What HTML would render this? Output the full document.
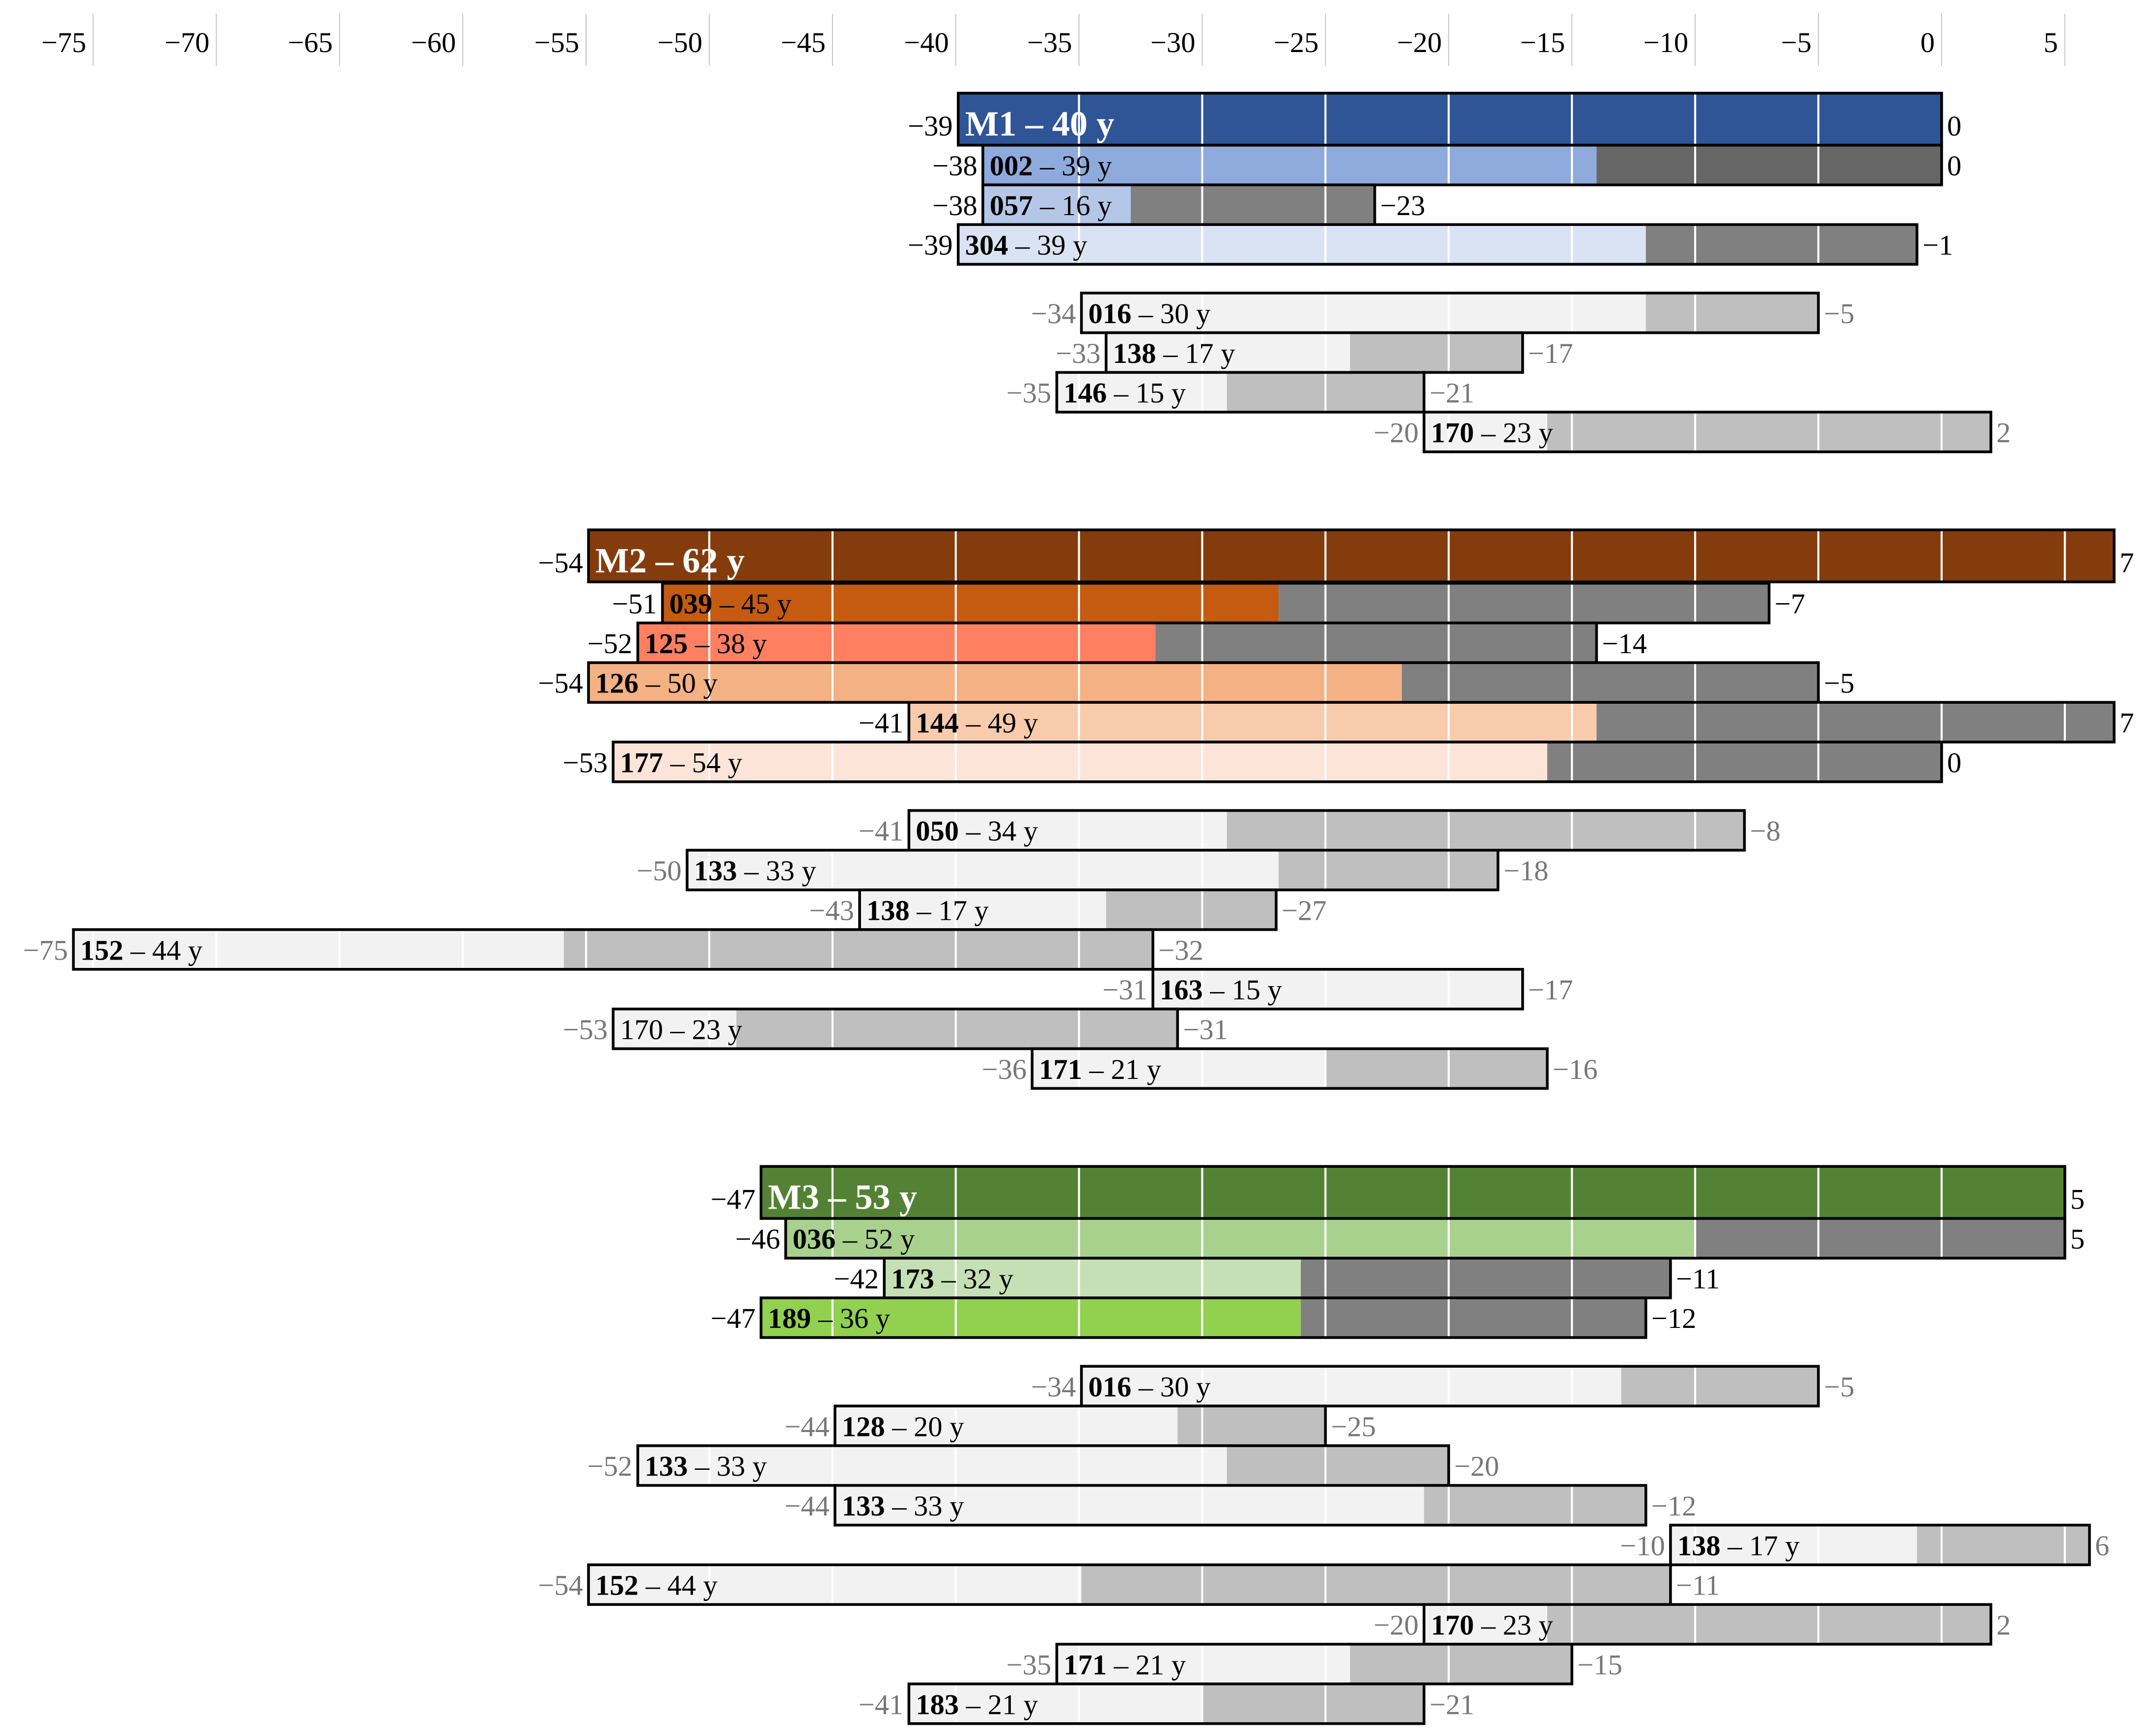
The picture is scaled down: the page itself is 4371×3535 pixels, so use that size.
<!DOCTYPE html>
<html><head><meta charset="utf-8"><style>
html,body{margin:0;padding:0;background:#fff}
svg{display:block}
text{font-family:"Liberation Serif",serif}
</style></head><body>
<svg id="chart" width="4371" height="3535" viewBox="0 0 1568 1268" xmlns="http://www.w3.org/2000/svg">
<g id="axis"></g>
<g id="bars"></g>
</svg>
<script>
// tick values on the top axis
const ticks = [-75,-70,-65,-60,-55,-50,-45,-40,-35,-30,-25,-20,-15,-10,-5,0,5];
// each row: name, age label, start value, split value (end of coloured part), end value
const rowNames = ["M1","002","057","304","016","138","146","170",
 "M2","039","125","126","144","177","050","133","138","152","163","170","171",
 "M3","036","173","189","016","128","133","133","138","152","170","171","183"];
const rowAges = [40,39,16,39,30,17,15,23, 62,45,38,50,49,54,34,33,17,44,15,23,21, 53,52,32,36,30,20,33,33,17,44,23,21,21];
const startVals = [-39.9,-38.9,-38.9,-39.9,-34.9,-33.9,-35.9,-21.0,
 -54.9,-51.9,-52.9,-54.9,-41.9,-53.9,-41.9,-50.9,-43.9,-75.8,-32.0,-53.9,-36.9,
 -47.9,-46.9,-42.9,-47.9,-34.9,-44.9,-52.9,-44.9,-11.0,-54.9,-21.0,-35.9,-41.9];
const splitVals = [0,-14,-32.9,-12,-12,-24,-29,-16,
 7,-26.9,-31.9,-21.9,-14,-16,-29,-26.9,-33.9,-55.9,-17,-48.9,-25,
 5,-10,-26,-26,-13,-31,-29,-21,-1,-34.9,-16,-24,-30];
const endVals = [0,0,-23,-1,-5,-17,-21,2,
 7,-7,-14,-5,7,0,-8,-18,-27,-32,-17,-31,-16,
 5,5,-11,-12,-5,-25,-20,-12,6,-11,2,-15,-21];
const startLabels = [-39,-38,-38,-39,-34,-33,-35,-20,-54,-51,-52,-54,-41,-53,-41,-50,-43,-75,-31,-53,-36,-47,-46,-42,-47,-34,-44,-52,-44,-10,-54,-20,-35,-41];
const endLabels = [0,0,-23,-1,-5,-17,-21,2,7,-7,-14,-5,7,0,-8,-18,-27,-32,-17,-31,-16,5,5,-11,-12,-5,-25,-20,-12,6,-11,2,-15,-21];
// row kinds: 0 = main, 1 = coloured member, 2 = light comparison
const rowKinds = [0,1,1,1,2,2,2,2, 0,1,1,1,1,1,2,2,2,2,2,2,2, 0,1,1,1,2,2,2,2,2,2,2,2,2];
const rowColors = ["#2f5597","#8faadc","#b4c7e7","#dae3f3","#f2f2f2","#f2f2f2","#f2f2f2","#f2f2f2",
 "#843c0c","#c55a11","#ff7f61","#f4b183","#f8cbad","#fde4d8","#f2f2f2","#f2f2f2","#f2f2f2","#f2f2f2","#f2f2f2","#f2f2f2","#f2f2f2",
 "#548235","#a9d18e","#c5e0b4","#92d050","#f2f2f2","#f2f2f2","#f2f2f2","#f2f2f2","#f2f2f2","#f2f2f2","#f2f2f2","#f2f2f2","#f2f2f2"];
const rowTops = [68,106,135,164,214,243,272,301, 387,426,455,484,513,542,592,621,650,679,708,737,766, 852,890,919,948,998,1027,1056,1085,1114,1143,1172,1201,1230];

const NS="http://www.w3.org/2000/svg";
const X = v => 1418 + 18*v;
function mk(tag, attrs, parent){const e=document.createElementNS(NS,tag);for(const k in attrs)e.setAttribute(k,attrs[k]);parent.appendChild(e);return e;}
const axis=document.getElementById('axis'), bars=document.getElementById('bars');
ticks.forEach(t=>{
  const l=mk('line',{x1:X(t),x2:X(t),y1:10,y2:48,stroke:'#bbb','stroke-width':0.6},axis);
  
  
  const tx=mk('text',{x:X(t)-5,y:38,'text-anchor':'end','font-size':21},axis);
  tx.textContent=String(t).replace('-','\u2212');
  
  
});
rowNames.forEach((n,i)=>{
  const kind=rowKinds[i];
  const h = kind===0?38:29, y=rowTops[i];
  const g=mk('g',{},bars);
  
  
  const x0=X(startVals[i]), xs=X(splitVals[i]), x1=X(endVals[i]);
  const grey = kind===2?'#bfbfbf':(i===1?'#666666':'#808080');
  mk('rect',{x:x0,y:y,width:Math.max(0,xs-x0),height:h,fill:rowColors[i]},g);
  if(x1>xs) mk('rect',{x:xs,y:y,width:x1-xs,height:h,fill:grey},g);
  ticks.forEach(t=>{const gx=X(t); if(gx>x0+2&&gx<x1-2) mk('line',{x1:gx,x2:gx,y1:y,y2:y+h,stroke:'#fff','stroke-width':1.5},g);});
  mk('rect',{x:x0,y:y,width:x1-x0,height:h,fill:'none',stroke:'#000','stroke-width':2},g);
  const lab=mk('text',{x:x0+5,y:y+h-7,'font-size':kind===0?26:21,fill:kind===0?'#fff':'#000'},g);
  if(kind===0){lab.setAttribute('font-weight','bold');lab.textContent=n+' \u2013 '+rowAges[i]+' y';}
  else{const b=mk('tspan',{'font-weight':(i===19?'normal':'bold')},lab);b.textContent=n;const r=mk('tspan',{},lab);r.textContent=' \u2013 '+rowAges[i]+' y';}
  
  
  const vc = kind===2?'#777':'#000';
  const sl=mk('text',{x:x0-4,y:y+h-7,'text-anchor':'end','font-size':21,fill:vc},g);
  sl.textContent=String(startLabels[i]).replace('-','\u2212');
  
  
  const el=mk('text',{x:x1+4,y:y+h-7,'font-size':21,fill:vc},g);
  el.textContent=String(endLabels[i]).replace('-','\u2212');
  
  
});
</script>
</body></html>
